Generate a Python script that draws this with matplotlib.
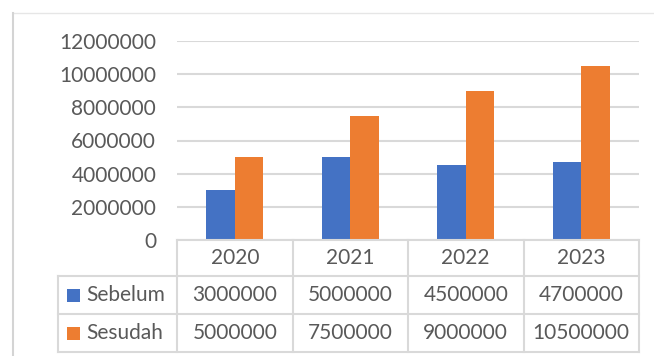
import matplotlib.pyplot as plt
from matplotlib.lines import Line2D
from matplotlib.patches import Rectangle
from matplotlib.transforms import blended_transform_factory

years = ['2020', '2021', '2022', '2023']
sebelum = [3000000, 5000000, 4500000, 4700000]
sesudah = [5000000, 7500000, 9000000, 10500000]
series_names = ['Sebelum', 'Sesudah']
colors = ['#4472C4', '#ED7D31']
yticks = [0, 2000000, 4000000, 6000000, 8000000, 10000000, 12000000]

W, H = 654, 356
txt = '#595959'
grid = '#d9d9d9'
plt.rcParams['font.family'] = ['Lato', 'DejaVu Sans']
fs = 15

fig = plt.figure(figsize=(W / 100, H / 100), dpi=100)


def fx(x):
    return x / W


def fy(y):
    return 1 - y / H


# plot area
left, right, top, bottom = 177, 639, 41, 240
ax = fig.add_axes([fx(left), fy(bottom), fx(right - left), (bottom - top) / H])
n = len(years)
xs = list(range(n))
bw = 0.245
ax.bar([x - bw / 2 for x in xs], sebelum, bw, color=colors[0], zorder=3)
ax.bar([x + bw / 2 for x in xs], sesudah, bw, color=colors[1], zorder=3)
ax.set_xlim(-0.5, n - 0.5)
ax.set_ylim(0, 12000000)
ax.set_yticks(yticks)
ax.set_yticklabels([str(v) for v in yticks], fontsize=fs, color=txt)
ax.tick_params(axis='y', length=0, pad=15)
ax.set_xticks([])
ax.grid(axis='y', color=grid, linewidth=1.5, zorder=0)
for s in ax.spines.values():
    s.set_visible(False)

# data table below the plot
tr = blended_transform_factory(ax.transData, fig.transFigure)
rows = [240, 276, 314, 352]
leg_left = 58


def hline(x0, x1, y):
    fig.add_artist(Line2D([fx(x0), fx(x1)], [fy(y), fy(y)], color=grid, lw=1.5))


def vline(x, y0, y1):
    fig.add_artist(Line2D([fx(x), fx(x)], [fy(y0), fy(y1)], color=grid, lw=1.5))


hline(left, right, rows[0])
for y in rows[1:]:
    hline(leg_left, right, y)
vline(leg_left, rows[1], rows[3])
vline(left, rows[0], rows[3])
for i in range(n):
    xb = ax.transData.transform((i + 0.5, 0))[0]
    vline(xb, rows[0], rows[3])

for i, yr in enumerate(years):
    fig.text(i, fy((rows[0] + rows[1]) / 2), yr, transform=tr,
             ha='center', va='center', fontsize=fs, color=txt)

for r, (name, vals) in enumerate(zip(series_names, [sebelum, sesudah])):
    yc = (rows[r + 1] + rows[r + 2]) / 2
    fig.add_artist(Rectangle((fx(67), fy(yc + 6.5)), fx(13), 13 / H,
                             color=colors[r], lw=0))
    fig.text(fx(86), fy(yc), name, ha='left', va='center', fontsize=fs, color=txt)
    for i, v in enumerate(vals):
        fig.text(i, fy(yc), str(v), transform=tr,
                 ha='center', va='center', fontsize=fs, color=txt)

# chart area frame
fig.add_artist(Line2D([fx(13), fx(W)], [fy(13), fy(13)], color='#e6e6e6', lw=1))
fig.add_artist(Line2D([fx(13), fx(13)], [fy(13), fy(H)], color='#d4d4d4', lw=1.5))

fig.savefig('out.png', dpi=100)
